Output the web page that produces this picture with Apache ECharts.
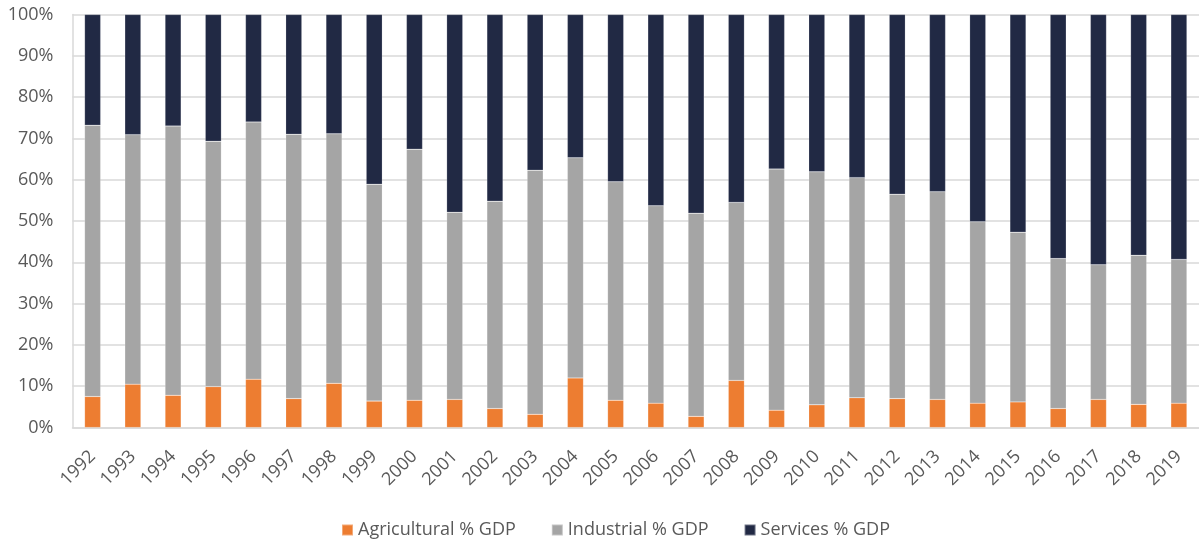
<!DOCTYPE html>
<html>
<head>
<meta charset="utf-8">
<script src="https://cdn.jsdelivr.net/npm/echarts@6/dist/echarts.min.js"></script>
<style>html,body{margin:0;padding:0;background:#fff;overflow:hidden}#c{width:1199px;height:544px}</style>
</head>
<body>
<div id="c"></div>
<script>
const years = ['1992','1993','1994','1995','1996','1997','1998','1999','2000','2001','2002','2003','2004','2005','2006','2007','2008','2009','2010','2011','2012','2013','2014','2015','2016','2017','2018','2019'];
const agricultural = [7.5,10.5,7.8,9.9,11.7,7.0,10.7,6.4,6.6,6.8,4.6,3.2,12.0,6.6,5.9,2.7,11.4,4.2,5.5,7.2,7.0,6.8,5.9,6.2,4.6,6.8,5.6,5.9];
const industrial = [65.7,60.4,65.2,59.4,62.3,64.0,60.4,52.5,60.8,45.3,50.2,59.1,53.3,52.9,47.8,49.2,43.1,58.4,56.4,53.3,49.5,50.3,43.9,41.1,36.3,32.6,36.1,34.8];
const services = [26.8,29.1,27.0,30.7,26.0,29.0,28.9,41.1,32.6,47.9,45.2,37.7,34.7,40.5,46.3,48.1,45.5,37.4,38.1,39.5,43.5,42.9,50.2,52.7,59.1,60.6,58.3,59.3];
const yTicks = ['0%','10%','20%','30%','40%','50%','60%','70%','80%','90%','100%'];

const font = 'Open Sans';
const chart = echarts.init(document.getElementById('c'));
const mk = (name, data, color) => ({
  name, type: 'bar', stack: 'total', data, barWidth: '40%',
  itemStyle: { color, borderColor: 'rgba(255,255,255,0.35)', borderWidth: 0.5 }
});
chart.setOption({
  animation: false,
  textStyle: { fontFamily: font },
  grid: { left: 72.5, right: -6, top: 14.5, bottom: 116.5, containLabel: false },
  xAxis: {
    type: 'category', data: years,
    axisLine: { lineStyle: { color: '#D9D9D9', width: 1.5 } },
    axisTick: { show: false },
    axisLabel: { rotate: 45, color: '#595959', fontSize: 18, fontFamily: font, margin: 26 }
  },
  yAxis: {
    type: 'value', min: 0, max: 100, interval: 10,
    axisLine: { show: true, lineStyle: { color: '#D9D9D9', width: 1.5 } },
    splitLine: { lineStyle: { color: '#D9D9D9', width: 1.5 } },
    axisLabel: { color: '#595959', fontSize: 18, fontFamily: font, margin: 19,
      formatter: v => yTicks[Math.round(v / 10)] }
  },
  legend: {
    top: 516, left: 336, icon: 'rect', itemWidth: 11, itemHeight: 11, itemGap: 35,
    textStyle: { color: '#595959', fontSize: 18, fontFamily: font }
  },
  series: [
    mk('Agricultural % GDP', agricultural, '#ED7D31'),
    mk('Industrial % GDP', industrial, '#A5A5A5'),
    mk('Services % GDP', services, '#212944')
  ]
});
</script>
</body>
</html>
